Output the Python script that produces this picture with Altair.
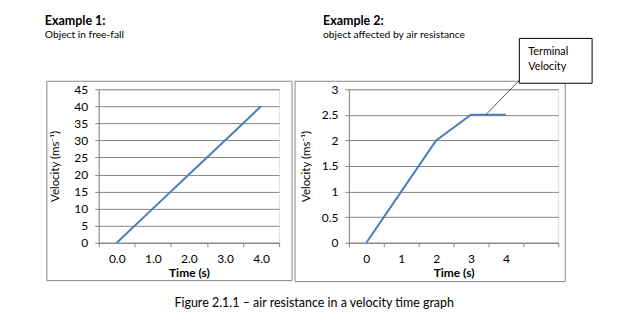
import altair as alt
import pandas as pd

FONT = "Lato"
BLUE = "#4A7EBB"
GRID = "#868686"

# ---- data ----
times1 = ["0.0", "1.0", "2.0", "3.0", "4.0"]
vel1 = [0, 10, 20, 30, 40]
times2 = ["0", "1", "2", "3", "4"]
vel2 = [0, 1, 2, 2.5, 2.5]
x2_domain = times2 + [""]
y1_ticks = [0, 5, 10, 15, 20, 25, 30, 35, 40, 45]
y2_ticks = [0, 0.5, 1, 1.5, 2, 2.5, 3]

df1 = pd.DataFrame({"t": times1, "v": vel1})
df2 = pd.DataFrame({"t": times2, "v": vel2})

W1, W2, H = 181, 210, 154
one = alt.Data(values=[{}])


def x_axis(w):
    return alt.Axis(title="Time (s)", titleFontWeight="bold", titleFontSize=12,
                    titleFont=FONT, titleX=w / 2, titleY=30, titleBaseline="middle",
                    labelFont=FONT, labelFontSize=12, labelAngle=0, labelPadding=7,
                    tickBand="extent", tickSize=4, tickColor=GRID, domainColor=GRID,
                    grid=False, labelColor="black")


def y_axis(vals):
    return alt.Axis(title="Velocity (ms⁻¹)", titleFont=FONT, titleFontSize=11.5,
                    titleFontWeight="normal", titleAngle=270, titleX=-43, titleY=H / 2,
                    titleAlign="center", titleBaseline="middle",
                    values=vals, format="~g", labelFont=FONT, labelFontSize=12,
                    labelPadding=7, tickSize=4, tickColor=GRID, domainColor=GRID,
                    gridColor=GRID, grid=True, labelColor="black")


def txt(x, y, s, size=10, weight="normal", align="left", color="black"):
    return alt.Chart(one).mark_text(text=s, font=FONT, fontSize=size, fontWeight=weight,
                                    align=align, baseline="middle", color=color).encode(
        x=alt.value(x), y=alt.value(y))


def box(x, x2, y, y2, stroke, fill="transparent", sw=1, opacity=1):
    return alt.Chart(one).mark_rect(fill=fill, stroke=stroke, strokeWidth=sw,
                                    opacity=opacity).encode(
        x=alt.value(x), x2=alt.value(x2), y=alt.value(y), y2=alt.value(y2))


# ---- chart 1 ----
line1 = alt.Chart(df1).mark_line(color=BLUE, strokeWidth=2).encode(
    x=alt.X("t:O", sort=times1, bandPosition=0.5,
            scale=alt.Scale(type="band", domain=times1, paddingInner=0, paddingOuter=0),
            axis=x_axis(W1)),
    y=alt.Y("v:Q", scale=alt.Scale(domain=[0, 45], nice=False, zero=True),
            axis=y_axis(y1_ticks)),
)

c1 = alt.layer(
    box(-98, 529, -88, 234, stroke="white", fill="white", opacity=0),
    box(-52, 194, -8, 192, stroke=GRID),
    line1,
    txt(-54, -68, "Example 1:", size=12.5, weight="bold"),
    txt(-54, -54, "Object in free-fall", size=10.3),
    txt(76, 214, "Figure 2.1.1 – air resistance in a velocity time graph", size=12.5),
).properties(width=W1, height=H)

# ---- chart 2 ----
line2 = alt.Chart(df2).mark_line(color=BLUE, strokeWidth=2).encode(
    x=alt.X("t:O", sort=x2_domain, bandPosition=0.5,
            scale=alt.Scale(type="band", domain=x2_domain, paddingInner=0, paddingOuter=0),
            axis=x_axis(W2)),
    y=alt.Y("v:Q", scale=alt.Scale(domain=[0, 3], nice=False, zero=True),
            axis=y_axis(y2_ticks)),
)

c2 = alt.layer(
    box(-54, 217, -8, 193, stroke=GRID),
    line2,
    alt.Chart(one).mark_rule(color="#222222", strokeWidth=0.8).encode(
        x=alt.value(171), y=alt.value(-9), x2=alt.value(138), y2=alt.value(25)),
    box(171, 244, -51, -6, stroke="black", fill="white"),
    txt(180, -37, "Terminal", size=10.8),
    txt(180, -22, "Velocity", size=10.8),
    txt(-26, -68, "Example 2:", size=12.5, weight="bold"),
    txt(-26, -54, "object affected by air resistance", size=10.3),
).properties(width=W2, height=H)

chart = alt.hconcat(c1, c2, spacing=70, bounds="flush", padding=0).configure_view(
    stroke=None
).configure(font=FONT, background="white")

chart.save("out.html", embed_options={"renderer": "svg", "actions": False})
